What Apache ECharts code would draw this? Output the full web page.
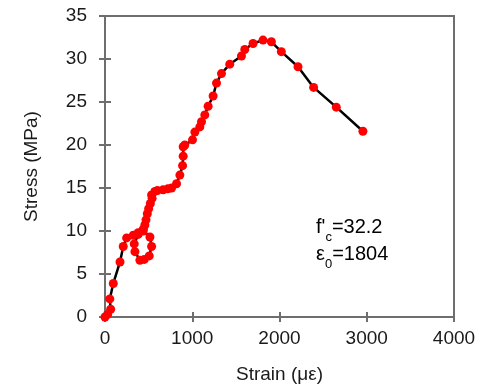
<!DOCTYPE html>
<html>
<head>
<meta charset="utf-8">
<script src="https://cdn.jsdelivr.net/npm/echarts@6/dist/echarts.min.js"></script>
<style>html,body{margin:0;padding:0;background:#fff}#c{width:484px;height:389px}</style>
</head>
<body>
<div id="c"></div>
<script>
const strain = [0, 30, 65, 55, 95, 172, 209, 248, 324, 380, 438, 515, 534, 507, 450, 400, 343, 335, 380, 438, 457, 470, 485, 500, 520, 540, 534, 572, 600, 667, 720, 763, 820, 858, 889, 896, 896, 915, 1003, 1030, 1087, 1106, 1144, 1182, 1239, 1278, 1335, 1430, 1564, 1602, 1697, 1811, 1907, 2021, 2212, 2391, 2651, 2956];
const stress = [0, 0.3, 0.9, 2.1, 3.9, 6.4, 8.2, 9.2, 9.5, 9.8, 10.0, 9.3, 8.2, 7.1, 6.7, 6.6, 7.6, 8.5, 9.6, 10.2, 10.7, 11.3, 12.0, 12.6, 13.2, 13.8, 14.2, 14.6, 14.7, 14.8, 14.9, 15.0, 15.5, 16.5, 17.6, 18.7, 19.8, 20.0, 20.6, 21.5, 22.1, 22.7, 23.5, 24.5, 25.7, 27.2, 28.3, 29.4, 30.35, 31.1, 31.8, 32.2, 32.0, 30.85, 29.1, 26.7, 24.4, 21.6];
const xTicks = [0, 1000, 2000, 3000, 4000];
const yTicks = [0, 5, 10, 15, 20, 25, 30, 35];
const xName = 'Strain (με)';
const yName = 'Stress (MPa)';

const axisColor = '#6e6e6e';
const textColor = '#1a1a1a';
const font = 'Liberation Sans, Arial, sans-serif';
const chart = echarts.init(document.getElementById('c'));
const pts = strain.map((x, i) => [x, stress[i]]);
const baseX = {
  type: 'value', min: xTicks[0], max: xTicks[xTicks.length - 1], interval: 1000,
  splitLine: { show: false },
  axisLine: { show: true, onZero: false, lineStyle: { color: axisColor, width: 2 } }
};
const baseY = {
  type: 'value', min: yTicks[0], max: yTicks[yTicks.length - 1], interval: 5,
  splitLine: { show: false },
  axisLine: { show: true, onZero: false, lineStyle: { color: axisColor, width: 2 } }
};
chart.setOption({
  animation: false,
  grid: { left: 105, right: 30, top: 16, bottom: 72, show: true, borderColor: axisColor, borderWidth: 2 },
  xAxis: [
    Object.assign({}, baseX, {
      position: 'bottom',
      name: xName, nameLocation: 'middle', nameGap: 48,
      nameTextStyle: { fontFamily: font, fontSize: 19, color: textColor },
      axisTick: { show: true, inside: false, length: 5, lineStyle: { color: axisColor, width: 2 } },
      axisLabel: { fontFamily: font, fontSize: 19, color: textColor, margin: 12, formatter: v => String(v) }
    }),
    Object.assign({}, baseX, {
      position: 'bottom',
      axisTick: { show: true, inside: true, length: 5, lineStyle: { color: axisColor, width: 2 } },
      axisLabel: { show: false }
    })
  ],
  yAxis: [
    Object.assign({}, baseY, {
      position: 'left',
      name: yName, nameLocation: 'middle', nameGap: 64, nameRotate: 90,
      nameTextStyle: { fontFamily: font, fontSize: 19, color: textColor },
      axisTick: { show: true, inside: false, length: 6, lineStyle: { color: axisColor, width: 2 } },
      axisLabel: { fontFamily: font, fontSize: 19, color: textColor, margin: 18 }
    }),
    Object.assign({}, baseY, {
      position: 'left',
      axisTick: { show: true, inside: true, length: 6, lineStyle: { color: axisColor, width: 2 } },
      axisLabel: { show: false }
    })
  ],
  series: [{
    type: 'line', data: pts, xAxisIndex: 0, yAxisIndex: 0,
    symbol: 'circle', symbolSize: 9,
    lineStyle: { color: '#000', width: 2.5 },
    itemStyle: { color: '#ff0000', borderWidth: 0 }
  }],
  graphic: [{
    type: 'text', left: 316, top: 217,
    style: {
      text: "{n|f'}{s|c}{n|=32.2}\n{n|ε}{s|0}{n|=1804}",
      rich: {
        n: { fontFamily: font, fontSize: 20, color: textColor, lineHeight: 27, verticalAlign: 'bottom' },
        s: { fontFamily: font, fontSize: 13, color: textColor, lineHeight: 27, verticalAlign: 'bottom', padding: [0, 0, -7, 0] }
      }
    }
  }]
});
</script>
</body>
</html>
